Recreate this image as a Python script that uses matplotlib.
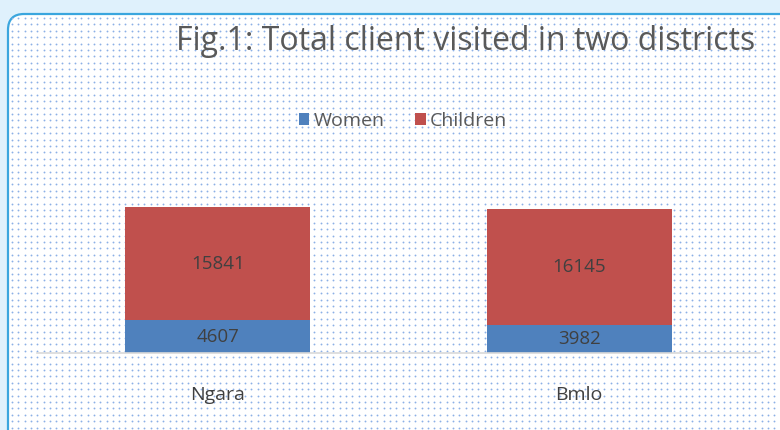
import numpy as np
import matplotlib
matplotlib.use('Agg')
import matplotlib.pyplot as plt
from matplotlib.patches import FancyBboxPatch

# data
districts = ['Ngara', 'Bmlo']
women = [4607, 3982]
children = [15841, 16145]

plt.rcParams['font.family'] = ['Open Sans', 'DejaVu Sans']

fig = plt.figure(figsize=(7.8, 4.3), dpi=100)
fig.patch.set_facecolor('#dff1fc')

# background card with dotted fill
bg = fig.add_axes([0, 0, 1, 1])
bg.set_xlim(0, 780)
bg.set_ylim(430, 0)
bg.axis('off')
card = FancyBboxPatch((8, 14), 800, 440, boxstyle='round,pad=0,rounding_size=16',
                      facecolor='white', edgecolor='#3aa6de', lw=1.6)
bg.add_patch(card)
gx, gy = np.meshgrid(np.arange(12, 780, 6.3), np.arange(18, 432, 6.4))
dots = bg.scatter(gx.ravel(), gy.ravel(), s=1.8, color='#8cb0e6', linewidths=0)
dots.set_clip_path(card)

# chart
ax = fig.add_axes([37/780, 77/430, 723/780, 178.5/430])
ax.patch.set_alpha(0)
x = np.arange(len(districts))
b1 = ax.bar(x, women, width=0.512, color='#4f81bd', label='Women')
b2 = ax.bar(x, children, width=0.512, bottom=women, color='#c0504d', label='Children')
ax.bar_label(b1, label_type='center', fontsize=13.5, color='#404040')
ax.bar_label(b2, label_type='center', fontsize=13.5, color='#404040')
ax.set_xlim(-0.5, 1.5)
ax.set_ylim(0, 25000)
ax.set_yticks([])
ax.set_xticks(x)
ax.set_xticklabels(districts, fontsize=14, color='#404040')
ax.tick_params(axis='x', length=0, pad=24)
for s in ['top', 'right', 'left']:
    ax.spines[s].set_visible(False)
ax.spines['bottom'].set_color('#d9d9d9')
ax.spines['bottom'].set_linewidth(1.2)

fig.legend(loc='center', bbox_to_anchor=(403/780, 1 - 121/430), ncol=2, frameon=False,
           fontsize=14, handlelength=0.55, handleheight=0.55, handletextpad=0.2,
           columnspacing=1.6, labelcolor='#595959')

fig.text(466/780, 1 - 41/430, 'Fig.1: Total client visited in two districts',
         ha='center', va='center', fontsize=23, color='#595959')

fig.savefig('out.png', dpi=100)
